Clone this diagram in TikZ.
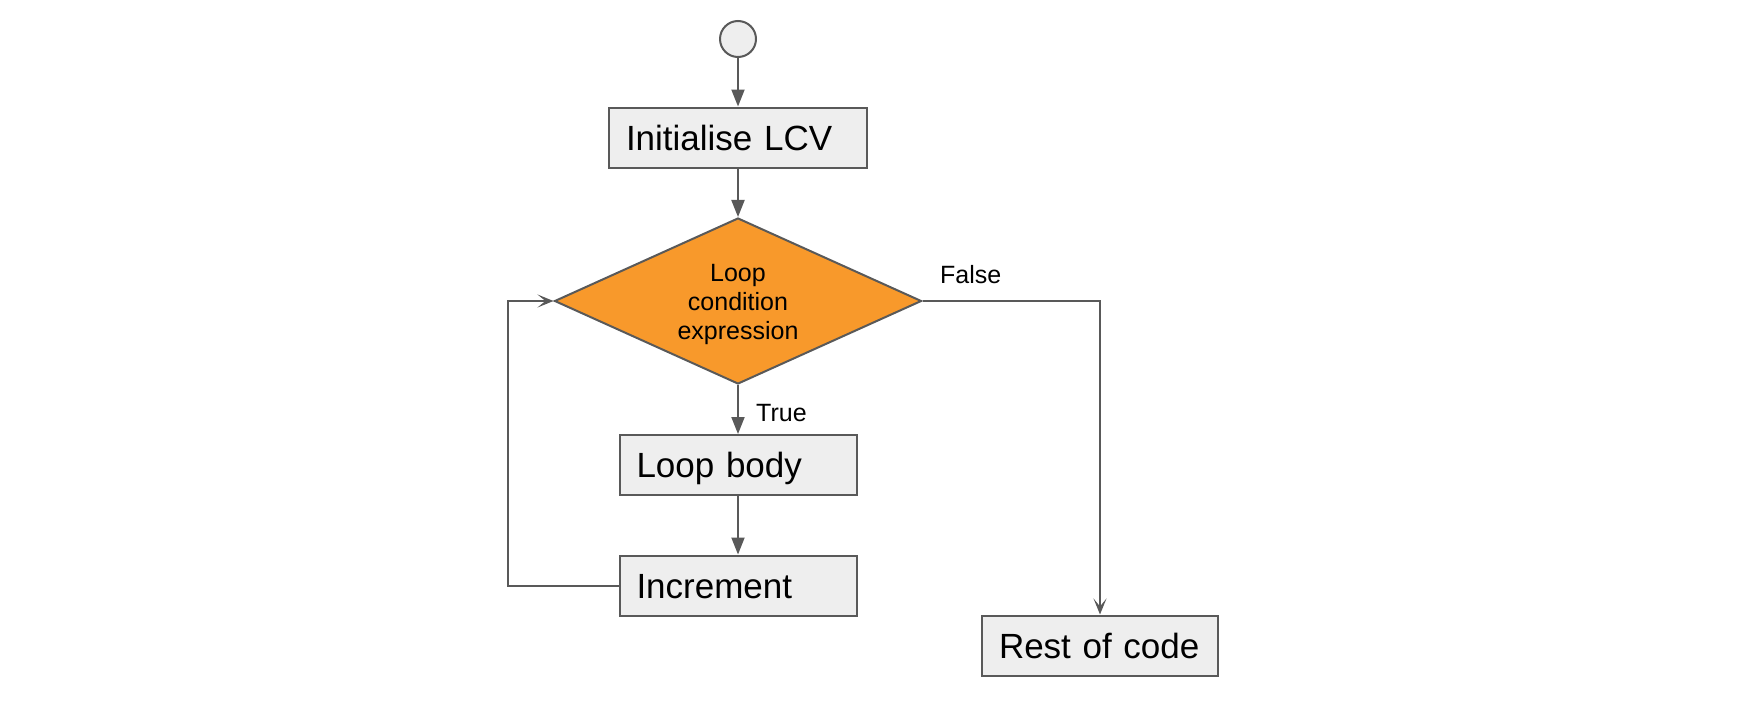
\documentclass[tikz,border=0pt]{standalone}
\usepackage{fontspec}
\setmainfont{Liberation Sans}
\usetikzlibrary{shapes.geometric,arrows.meta}
\definecolor{ln}{HTML}{595959}
\definecolor{bx}{HTML}{EEEEEE}
\definecolor{org}{HTML}{F8992B}
\begin{document}
\begin{tikzpicture}[x=1pt,y=-1pt,
  line/.style={draw=ln, line width=2pt},
  stepbox/.style={draw=ln, line width=2pt, fill=bx, rectangle, minimum height=60pt,
    inner xsep=17pt, inner ysep=0pt, align=left, text height=25pt, text depth=0pt,
    font=\fontsize{35}{40}\selectfont},
  filledtip/.style={-{Triangle[length=17pt,width=13pt]}},
  opentip/.style={-{Stealth[length=16pt,width=13pt,inset=8pt]}},
  lbl/.style={font=\fontsize{25}{29}\selectfont, inner sep=0pt}]
\useasboundingbox (0,0) rectangle (1738,712);

\node[circle, draw=ln, line width=2pt, fill=bx, minimum size=36pt, inner sep=0pt] (start) at (738,39) {};
\node[stepbox, text width=224pt] (init) at (738,137.5) {Initialise LCV};
\node[diamond, draw=ln, line width=2pt, fill=org, minimum width=367pt, minimum height=166pt,
  inner sep=0pt, aspect=2.2,
  label={[yshift=-3.5pt, align=center, inner sep=0pt, font=\fontsize{25}{29}\selectfont]center:Loop\\condition\\expression}] (cond) at (738,301) {};
\node[stepbox, text width=203pt] (body) at (738,465) {Loop body};
\node[stepbox, text width=203pt] (inc) at (738,585.5) {Increment};
\node[stepbox, text width=202pt] (rest) at (1100,645.5) {Rest of code};

\coordinate (loopx) at (508,585.5);

\draw[line, filledtip] (start) -- (init);
\draw[line, filledtip] (init) -- (cond);
\draw[line, filledtip] (cond.south) -- (body.north);
\draw[line, filledtip] (body) -- (inc);
\draw[line, opentip] (inc.west) -- (loopx) |- (cond.west);
\draw[line, opentip] (cond.east) -| (rest.north);

\node[lbl, anchor=base west] (flbl) at (940,283) {False};
\node[lbl, anchor=base west] (tlbl) at (756,421.7) {True};
\end{tikzpicture}
\end{document}
